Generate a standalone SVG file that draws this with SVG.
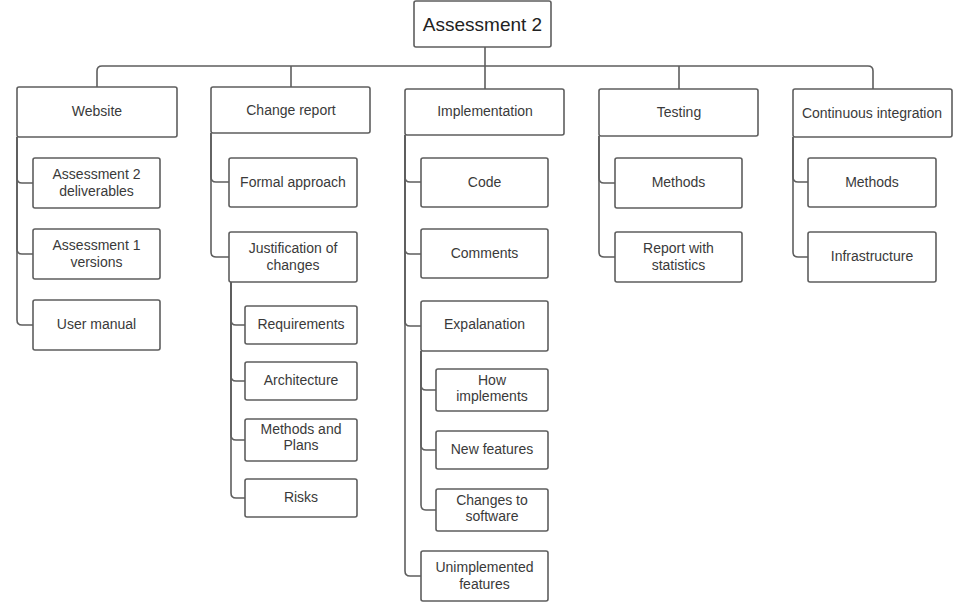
<svg xmlns="http://www.w3.org/2000/svg" width="955" height="603" viewBox="0 0 955 603">
<style>
.b{fill:#fff;stroke:#5e5e5e;stroke-width:1.6}
.c{fill:none;stroke:#5e5e5e;stroke-width:1.6}
text{font-family:"Liberation Sans",Arial,sans-serif;font-size:14px;fill:#3a3a3a;text-anchor:middle}
.r{font-size:19px;fill:#222}
</style>
<rect width="955" height="603" fill="#fff"/>
<g id="connectors">
<path class="c" d="M485 47V89"/>
<path class="c" d="M97 87V71Q97 66 102 66H868Q873 66 873 71V89"/>
<path class="c" d="M291 66V87"/>
<path class="c" d="M679 66V89"/>
<path class="c" d="M17 137V178Q17 183 22 183H33"/>
<path class="c" d="M17 137V249Q17 254 22 254H33"/>
<path class="c" d="M17 137V320Q17 325 22 325H33"/>
<path class="c" d="M211 133V177Q211 182 216 182H229"/>
<path class="c" d="M211 133V252Q211 257 216 257H229"/>
<path class="c" d="M231 282V320Q231 325 236 325H245"/>
<path class="c" d="M231 282V376Q231 381 236 381H245"/>
<path class="c" d="M231 282V435Q231 440 236 440H245"/>
<path class="c" d="M231 282V493Q231 498 236 498H245"/>
<path class="c" d="M405 135V177Q405 182 410 182H421"/>
<path class="c" d="M405 135V249Q405 254 410 254H421"/>
<path class="c" d="M405 135V321Q405 326 410 326H421"/>
<path class="c" d="M405 135V571Q405 576 410 576H421"/>
<path class="c" d="M421 351V385Q421 390 426 390H436"/>
<path class="c" d="M421 351V445Q421 450 426 450H436"/>
<path class="c" d="M421 351V505Q421 510 426 510H436"/>
<path class="c" d="M599 136V178Q599 183 604 183H615"/>
<path class="c" d="M599 136V252Q599 257 604 257H615"/>
<path class="c" d="M793 137V177Q793 182 798 182H808"/>
<path class="c" d="M793 137V252Q793 257 798 257H808"/>
</g>
<g id="root"><rect class="b" x="414" y="1" width="137" height="46" rx="2"/><text class="r" x="482.5" y="31">Assessment 2</text></g>
<g id="website"><rect class="b" x="17" y="87" width="160" height="50" rx="2"/><text x="97" y="116">Website</text></g>
<g id="change-report"><rect class="b" x="211" y="87" width="159" height="46" rx="2"/><text x="291" y="115">Change report</text></g>
<g id="implementation"><rect class="b" x="405" y="89" width="159" height="46" rx="2"/><text x="485" y="116">Implementation</text></g>
<g id="testing"><rect class="b" x="599" y="89" width="159" height="47" rx="2"/><text x="679" y="117">Testing</text></g>
<g id="ci"><rect class="b" x="793" y="89" width="159" height="48" rx="2"/><text x="872" y="118">Continuous integration</text></g>

<g id="a2-deliverables"><rect class="b" x="33" y="158" width="127" height="50" rx="2"/><text x="96.5" y="179">Assessment 2</text><text x="96.5" y="196">deliverables</text></g>
<g id="a1-versions"><rect class="b" x="33" y="229" width="127" height="50" rx="2"/><text x="96.5" y="250">Assessment 1</text><text x="96.5" y="267">versions</text></g>
<g id="user-manual"><rect class="b" x="33" y="300" width="127" height="50" rx="2"/><text x="96.5" y="329">User manual</text></g>

<g id="formal-approach"><rect class="b" x="229" y="158" width="128" height="49" rx="2"/><text x="293" y="187">Formal approach</text></g>
<g id="justification"><rect class="b" x="229" y="232" width="128" height="50" rx="2"/><text x="293" y="253">Justification of</text><text x="293" y="270">changes</text></g>
<g id="requirements"><rect class="b" x="245" y="306" width="112" height="38" rx="2"/><text x="301" y="329">Requirements</text></g>
<g id="architecture"><rect class="b" x="245" y="362" width="112" height="38" rx="2"/><text x="301" y="385">Architecture</text></g>
<g id="methods-plans"><rect class="b" x="245" y="419" width="112" height="42" rx="2"/><text x="301" y="434">Methods and</text><text x="301" y="450">Plans</text></g>
<g id="risks"><rect class="b" x="245" y="479" width="112" height="38" rx="2"/><text x="301" y="502">Risks</text></g>

<g id="code"><rect class="b" x="421" y="158" width="127" height="49" rx="2"/><text x="484.5" y="187">Code</text></g>
<g id="comments"><rect class="b" x="421" y="229" width="127" height="49" rx="2"/><text x="484.5" y="258">Comments</text></g>
<g id="explanation"><rect class="b" x="421" y="301" width="127" height="50" rx="2"/><text x="484.5" y="329">Expalanation</text></g>
<g id="how-implements"><rect class="b" x="436" y="369" width="112" height="42" rx="2"/><text x="492" y="385">How</text><text x="492" y="401">implements</text></g>
<g id="new-features"><rect class="b" x="436" y="431" width="112" height="38" rx="2"/><text x="492" y="454">New features</text></g>
<g id="changes-software"><rect class="b" x="436" y="489" width="112" height="42" rx="2"/><text x="492" y="505">Changes to</text><text x="492" y="521">software</text></g>
<g id="unimplemented"><rect class="b" x="421" y="551" width="127" height="50" rx="2"/><text x="484.5" y="572">Unimplemented</text><text x="484.5" y="589">features</text></g>

<g id="testing-methods"><rect class="b" x="615" y="158" width="127" height="50" rx="2"/><text x="678.5" y="187">Methods</text></g>
<g id="report-stats"><rect class="b" x="615" y="232" width="127" height="50" rx="2"/><text x="678.5" y="253">Report with</text><text x="678.5" y="270">statistics</text></g>

<g id="ci-methods"><rect class="b" x="808" y="158" width="128" height="49" rx="2"/><text x="872" y="187">Methods</text></g>
<g id="infrastructure"><rect class="b" x="808" y="232" width="128" height="50" rx="2"/><text x="872" y="261">Infrastructure</text></g>
</svg>
